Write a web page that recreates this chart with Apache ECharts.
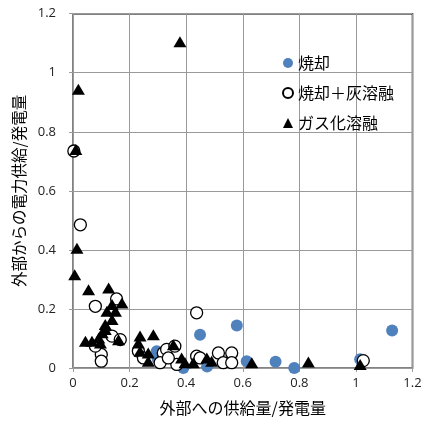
<!DOCTYPE html>
<html>
<head>
<meta charset="utf-8">
<script src="https://cdn.jsdelivr.net/npm/echarts@6/dist/echarts.min.js"></script>
<style>
html,body{margin:0;padding:0;background:#fff;}
#chart{width:438px;height:421px;}
</style>
</head>
<body>
<div id="chart"></div>
<script>
// Series names (legend)
const seriesNames = ['焼却', '焼却＋灰溶融', 'ガス化溶融'];
// Axis titles
const xAxisTitle = '外部への供給量/発電量';
const yAxisTitle = '外部からの電力供給/発電量';

// 焼却 (filled blue circles): [x, y]
const incineration = [
  [1.128, 0.127], [0.579, 0.144], [0.449, 0.113], [0.614, 0.023], [0.716, 0.021],
  [0.782, 0.000], [0.296, 0.057], [0.300, 0.030], [0.378, 0.012], [0.390, 0.000],
  [0.474, 0.005], [1.015, 0.030]
];
// 焼却＋灰溶融 (open circles)
const incinerationAshMelting = [
  [0.003, 0.735], [0.026, 0.485], [0.079, 0.209], [0.154, 0.234], [0.100, 0.046],
  [0.100, 0.023], [0.079, 0.074], [0.138, 0.108], [0.167, 0.096], [0.437, 0.187],
  [0.231, 0.057], [0.249, 0.034], [0.319, 0.051], [0.331, 0.063], [0.360, 0.074],
  [0.308, 0.018], [0.367, 0.012], [0.337, 0.034], [0.437, 0.040], [0.449, 0.034],
  [0.514, 0.051], [0.561, 0.051], [0.531, 0.018], [0.561, 0.018], [1.026, 0.025]
];
// ガス化溶融 (black triangles)
const gasificationMelting = [
  [0.378, 1.105], [0.019, 0.944], [0.010, 0.740], [0.014, 0.406], [0.006, 0.316],
  [0.055, 0.265], [0.126, 0.271], [0.138, 0.215], [0.173, 0.220], [0.120, 0.192],
  [0.150, 0.192], [0.138, 0.164], [0.114, 0.147], [0.114, 0.130], [0.103, 0.119],
  [0.091, 0.102], [0.044, 0.091], [0.067, 0.091], [0.097, 0.085], [0.161, 0.096],
  [0.237, 0.108], [0.284, 0.113], [0.231, 0.085], [0.237, 0.057], [0.266, 0.051],
  [0.266, 0.023], [0.355, 0.079], [0.384, 0.034], [0.396, 0.018], [0.425, 0.018],
  [0.473, 0.034], [0.490, 0.023], [0.632, 0.018], [0.832, 0.020], [1.015, 0.012]
];

const cjkFont = '"Noto Sans CJK JP", sans-serif';
const numFont = '"Open Sans", sans-serif';
const gridColor = '#9a9a9a';

const chart = echarts.init(document.getElementById('chart'), null, {renderer: 'canvas'});
chart.setOption({
  animation: false,
  backgroundColor: '#fff',
  grid: {left: 73, right: 25.5, top: 13.7, bottom: 52.5, show: true, borderColor: '#000', borderWidth: 1.5, backgroundColor: 'transparent'},
  legend: {
    orient: 'vertical', left: 282, top: 55, padding: 0,
    itemWidth: 10, itemHeight: 10, itemGap: 14,
    textStyle: {fontFamily: cjkFont, fontSize: 16, color: '#000'},
    data: seriesNames
  },
  xAxis: {
    type: 'value', min: 0, max: 1.2, interval: 0.2,
    name: xAxisTitle, nameLocation: 'middle', nameGap: 32,
    nameTextStyle: {fontFamily: cjkFont, fontSize: 16, color: '#000'},
    axisLine: {show: true, lineStyle: {color: gridColor, width: 1.5}},
    axisTick: {show: true, inside: false, length: 4, lineStyle: {color: gridColor, width: 1}},
    axisLabel: {fontFamily: numFont, fontSize: 13, color: '#222', margin: 9},
    splitLine: {show: true, lineStyle: {color: gridColor, width: 1}}
  },
  yAxis: {
    type: 'value', min: 0, max: 1.2, interval: 0.2,
    name: yAxisTitle, nameLocation: 'middle', nameGap: 32,
    nameTextStyle: {fontFamily: cjkFont, fontSize: 15.5, color: '#000'},
    axisLine: {show: true, lineStyle: {color: gridColor, width: 1.5}},
    axisTick: {show: true, inside: false, length: 4, lineStyle: {color: gridColor, width: 1}},
    axisLabel: {fontFamily: numFont, fontSize: 13, color: '#222', margin: 17},
    splitLine: {show: true, lineStyle: {color: gridColor, width: 1}}
  },
  series: [
    {
      name: seriesNames[0], type: 'scatter', clip: false,
      symbol: 'circle', symbolSize: 12,
      itemStyle: {color: '#4f81bd', opacity: 1},
      data: incineration
    },
    {
      name: seriesNames[1], type: 'scatter', clip: false,
      symbol: 'circle', symbolSize: 12,
      itemStyle: {color: '#fff', borderColor: '#000', borderWidth: 1.3, opacity: 1},
      data: incinerationAshMelting
    },
    {
      name: seriesNames[2], type: 'scatter', clip: false,
      symbol: 'triangle', symbolSize: [13, 11],
      itemStyle: {color: '#000', opacity: 1},
      data: gasificationMelting
    }
  ]
});
</script>
</body>
</html>
